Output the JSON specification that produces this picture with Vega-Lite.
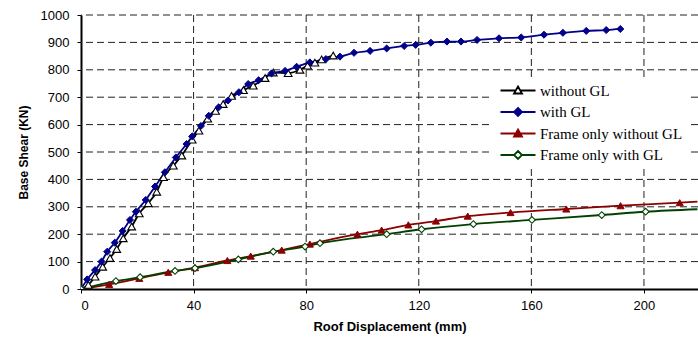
{
  "$schema": "https://vega.github.io/schema/vega-lite/v6.json",
  "width": 617,
  "height": 274,
  "autosize": {"type": "none"},
  "padding": {"left": 81, "top": 15, "right": 0, "bottom": 50},
  "background": "white",
  "config": {
    "view": {"stroke": null},
    "font": "Liberation Sans",
    "axisX": {
      "titleFont": "Liberation Sans", "titleFontSize": 13, "titleFontWeight": "bold", "titleColor": "black", "titlePadding": 8,
      "labelFont": "Liberation Sans", "labelFontSize": 13, "labelColor": "black", "labelPadding": 6,
      "grid": false, "domainColor": "black", "domainWidth": 2, "tickColor": "black", "tickSize": 4
    },
    "axisY": {
      "titleFont": "Liberation Sans", "titleFontSize": 12, "titleFontWeight": "bold", "titleColor": "black", "titlePadding": 10,
      "labelFont": "Liberation Sans", "labelFontSize": 13, "labelColor": "black", "labelPadding": 8,
      "grid": false, "domainColor": "black", "domainWidth": 2, "tickColor": "black", "tickSize": 4
    }
  },
  "datasets": {
    "curves": [
      {"series": "without GL", "x": 0, "y": 0},
      {"series": "without GL", "x": 2.6, "y": 15},
      {"series": "without GL", "x": 5, "y": 45},
      {"series": "without GL", "x": 7.7, "y": 81},
      {"series": "without GL", "x": 10.3, "y": 113},
      {"series": "without GL", "x": 12.7, "y": 146},
      {"series": "without GL", "x": 15, "y": 185},
      {"series": "without GL", "x": 18, "y": 228},
      {"series": "without GL", "x": 20.7, "y": 276},
      {"series": "without GL", "x": 23.9, "y": 313},
      {"series": "without GL", "x": 26.9, "y": 355},
      {"series": "without GL", "x": 29.3, "y": 408},
      {"series": "without GL", "x": 32.8, "y": 450},
      {"series": "without GL", "x": 35.8, "y": 487},
      {"series": "without GL", "x": 39.5, "y": 545},
      {"series": "without GL", "x": 41.9, "y": 578},
      {"series": "without GL", "x": 45, "y": 622},
      {"series": "without GL", "x": 47.8, "y": 650},
      {"series": "without GL", "x": 50.5, "y": 675},
      {"series": "without GL", "x": 53.5, "y": 705},
      {"series": "without GL", "x": 57.7, "y": 726},
      {"series": "without GL", "x": 61.2, "y": 742},
      {"series": "without GL", "x": 65.4, "y": 770},
      {"series": "without GL", "x": 68.3, "y": 790},
      {"series": "without GL", "x": 73.6, "y": 788},
      {"series": "without GL", "x": 77.8, "y": 800},
      {"series": "without GL", "x": 80.5, "y": 815},
      {"series": "without GL", "x": 83.1, "y": 826},
      {"series": "without GL", "x": 85.5, "y": 838},
      {"series": "without GL", "x": 89.6, "y": 852},
      {"series": "with GL", "x": 0, "y": 0},
      {"series": "with GL", "x": 2.2, "y": 35},
      {"series": "with GL", "x": 5, "y": 69},
      {"series": "with GL", "x": 7.3, "y": 100},
      {"series": "with GL", "x": 9.3, "y": 136},
      {"series": "with GL", "x": 12, "y": 169},
      {"series": "with GL", "x": 14.8, "y": 212},
      {"series": "with GL", "x": 17.4, "y": 252},
      {"series": "with GL", "x": 19.5, "y": 282},
      {"series": "with GL", "x": 23, "y": 325},
      {"series": "with GL", "x": 26.3, "y": 374},
      {"series": "with GL", "x": 29.8, "y": 426},
      {"series": "with GL", "x": 33.7, "y": 480},
      {"series": "with GL", "x": 37.5, "y": 529},
      {"series": "with GL", "x": 39.5, "y": 557},
      {"series": "with GL", "x": 42.6, "y": 595},
      {"series": "with GL", "x": 45.4, "y": 632},
      {"series": "with GL", "x": 48.9, "y": 663},
      {"series": "with GL", "x": 52.2, "y": 688},
      {"series": "with GL", "x": 56.1, "y": 718},
      {"series": "with GL", "x": 59.4, "y": 748},
      {"series": "with GL", "x": 63.1, "y": 762},
      {"series": "with GL", "x": 67.7, "y": 787},
      {"series": "with GL", "x": 72.5, "y": 796},
      {"series": "with GL", "x": 76.6, "y": 811},
      {"series": "with GL", "x": 81.3, "y": 827},
      {"series": "with GL", "x": 87, "y": 839},
      {"series": "with GL", "x": 92, "y": 848},
      {"series": "with GL", "x": 97, "y": 862},
      {"series": "with GL", "x": 102.7, "y": 869},
      {"series": "with GL", "x": 108.6, "y": 878},
      {"series": "with GL", "x": 114.8, "y": 887},
      {"series": "with GL", "x": 118.9, "y": 891},
      {"series": "with GL", "x": 124.3, "y": 899},
      {"series": "with GL", "x": 130, "y": 903},
      {"series": "with GL", "x": 135, "y": 903},
      {"series": "with GL", "x": 140.7, "y": 909},
      {"series": "with GL", "x": 148.5, "y": 915},
      {"series": "with GL", "x": 156.4, "y": 918},
      {"series": "with GL", "x": 164.5, "y": 928},
      {"series": "with GL", "x": 171.2, "y": 935},
      {"series": "with GL", "x": 179.5, "y": 942},
      {"series": "with GL", "x": 186.6, "y": 945},
      {"series": "with GL", "x": 191.6, "y": 949},
      {"series": "Frame only without GL", "x": 0, "y": 0},
      {"series": "Frame only without GL", "x": 10, "y": 17},
      {"series": "Frame only without GL", "x": 20.7, "y": 39},
      {"series": "Frame only without GL", "x": 31, "y": 61},
      {"series": "Frame only without GL", "x": 40.5, "y": 78},
      {"series": "Frame only without GL", "x": 52, "y": 104},
      {"series": "Frame only without GL", "x": 60.3, "y": 120},
      {"series": "Frame only without GL", "x": 71.3, "y": 142},
      {"series": "Frame only without GL", "x": 81.3, "y": 164},
      {"series": "Frame only without GL", "x": 98.2, "y": 200},
      {"series": "Frame only without GL", "x": 106.8, "y": 215},
      {"series": "Frame only without GL", "x": 116.3, "y": 234},
      {"series": "Frame only without GL", "x": 126.1, "y": 248},
      {"series": "Frame only without GL", "x": 137.4, "y": 266},
      {"series": "Frame only without GL", "x": 152.6, "y": 279},
      {"series": "Frame only without GL", "x": 172.4, "y": 292},
      {"series": "Frame only without GL", "x": 191.7, "y": 304},
      {"series": "Frame only without GL", "x": 212.7, "y": 315},
      {"series": "Frame only without GL", "x": 219, "y": 319},
      {"series": "Frame only with GL", "x": 0, "y": 0},
      {"series": "Frame only with GL", "x": 12.4, "y": 29},
      {"series": "Frame only with GL", "x": 21, "y": 43},
      {"series": "Frame only with GL", "x": 33.4, "y": 66},
      {"series": "Frame only with GL", "x": 40.5, "y": 76},
      {"series": "Frame only with GL", "x": 55.9, "y": 108},
      {"series": "Frame only with GL", "x": 68.3, "y": 136},
      {"series": "Frame only with GL", "x": 79.6, "y": 155},
      {"series": "Frame only with GL", "x": 84.9, "y": 167},
      {"series": "Frame only with GL", "x": 108.6, "y": 200},
      {"series": "Frame only with GL", "x": 121, "y": 218},
      {"series": "Frame only with GL", "x": 139.4, "y": 237},
      {"series": "Frame only with GL", "x": 160.2, "y": 252},
      {"series": "Frame only with GL", "x": 185, "y": 270},
      {"series": "Frame only with GL", "x": 200.6, "y": 282},
      {"series": "Frame only with GL", "x": 219, "y": 291}
    ],
    "ygrid": [
      {"y": 100}, {"y": 200}, {"y": 300}, {"y": 400}, {"y": 500},
      {"y": 600}, {"y": 700}, {"y": 800}, {"y": 900}, {"y": 1000}
    ],
    "xgrid": [
      {"x": 40}, {"x": 80}, {"x": 120}, {"x": 160}, {"x": 200}
    ]
  },
  "layer": [
    {
      "data": {"name": "ygrid"},
      "mark": {"type": "rule", "color": "#222222", "strokeWidth": 1, "strokeDash": [7, 4]},
      "encoding": {
        "y": {
          "field": "y",
          "type": "quantitative",
          "scale": {"domain": [0, 1000], "nice": false},
          "axis": {"title": "Base Shear (KN)", "values": [0, 100, 200, 300, 400, 500, 600, 700, 800, 900, 1000], "format": "d"}
        }
      }
    },
    {
      "data": {"name": "xgrid"},
      "mark": {"type": "rule", "color": "#222222", "strokeWidth": 1, "strokeDash": [7, 4]},
      "encoding": {
        "x": {
          "field": "x",
          "type": "quantitative",
          "scale": {"domain": [0, 219.2], "nice": false, "zero": false},
          "axis": {"title": "Roof Displacement (mm)", "values": [0, 40, 80, 120, 160, 200], "format": "d"}
        }
      }
    },
    {
      "data": {"name": "curves"},
      "encoding": {
        "x": {
          "field": "x",
          "type": "quantitative",
          "scale": {"domain": [0, 219.2], "nice": false, "zero": false},
          "axis": {"title": "Roof Displacement (mm)", "values": [0, 40, 80, 120, 160, 200], "format": "d"}
        },
        "y": {
          "field": "y",
          "type": "quantitative",
          "scale": {"domain": [0, 1000], "nice": false},
          "axis": {"title": "Base Shear (KN)", "values": [0, 100, 200, 300, 400, 500, 600, 700, 800, 900, 1000], "format": "d"}
        }
      },
      "layer": [
        {
          "mark": {"type": "line", "interpolate": "monotone", "strokeWidth": 1.8, "clip": true},
          "encoding": {
            "color": {
              "field": "series",
              "type": "nominal",
              "sort": null,
              "scale": {
                "domain": ["without GL", "with GL", "Frame only without GL", "Frame only with GL"],
                "range": ["black", "#00008B", "#8B0000", "#004000"]
              },
              "legend": {
                "orient": "none",
                "legendX": 411,
                "legendY": 62,
                "title": null,
                "fillColor": "white",
                "padding": 6,
                "labelFont": "Liberation Serif",
                "labelFontSize": 15,
                "labelColor": "black",
                "labelOffset": 27,
                "rowPadding": 4.5,
                "symbolSize": 100,
                "symbolStrokeWidth": 1.8,
                "encode": {
                  "symbols": {
                    "update": {
                      "shape": {"signal": "(datum.value === 'without GL' || datum.value === 'Frame only without GL') ? 'M-1,0L2.04,0M2.96,0L6,0M2.5,-0.8L3.3,0.6L1.7,0.6Z' : 'M-1,0L1.7,0M3.3,0L6,0M2.5,-0.8L3.3,0L2.5,0.8L1.7,0Z'"},
                      "fill": {"signal": "datum.value === 'with GL' ? '#00008B' : (datum.value === 'Frame only without GL' ? '#8B0000' : 'white')"},
                      "stroke": {"signal": "datum.value === 'without GL' ? 'black' : (datum.value === 'with GL' ? '#00008B' : (datum.value === 'Frame only without GL' ? '#8B0000' : '#004000'))"},
                      "opacity": {"value": 1}
                    }
                  }
                }
              }
            }
          }
        },
        {
          "transform": [{"filter": "datum.series === 'without GL'"}],
          "mark": {"type": "point", "shape": "triangle-up", "filled": true, "fill": "white", "stroke": "black", "strokeWidth": 1.1, "opacity": 1, "size": 60, "clip": true}
        },
        {
          "transform": [{"filter": "datum.series === 'with GL'"}],
          "mark": {"type": "point", "shape": "diamond", "filled": true, "fill": "#00008B", "stroke": "#00008B", "strokeWidth": 1, "opacity": 1, "size": 50, "clip": true}
        },
        {
          "transform": [{"filter": "datum.series === 'Frame only without GL' && datum.x < 215"}],
          "mark": {"type": "point", "shape": "triangle-up", "filled": true, "fill": "#8B0000", "stroke": "#8B0000", "strokeWidth": 1, "opacity": 1, "size": 50, "clip": true}
        },
        {
          "transform": [{"filter": "datum.series === 'Frame only with GL' && datum.x < 215"}],
          "mark": {"type": "point", "shape": "diamond", "filled": true, "fill": "white", "stroke": "#004000", "strokeWidth": 1.1, "opacity": 1, "size": 45, "clip": true}
        }
      ]
    }
  ]
}
